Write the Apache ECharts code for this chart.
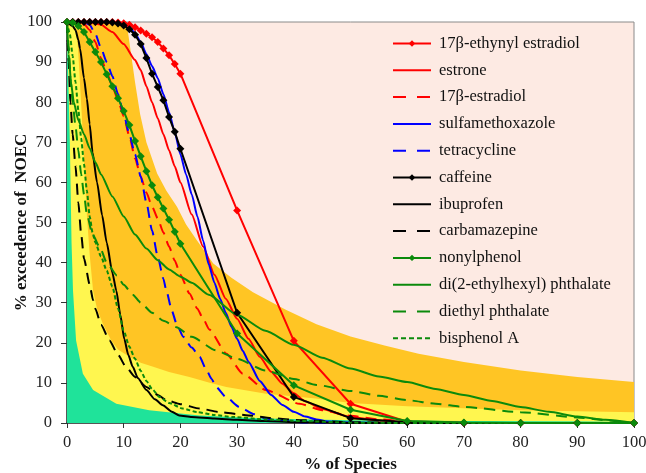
<!DOCTYPE html>
<html>
<head>
<meta charset="utf-8">
<script src="https://cdn.jsdelivr.net/npm/echarts@6/dist/echarts.min.js"></script>
<style>
  html, body { margin: 0; padding: 0; background: #fff; }
  #myChart { width: 646px; height: 473px; }
</style>
</head>
<body>
<div id="myChart"></div>
<script>
// x positions of the marker series (dense up to 20 %, then every 10 %)
const markerX = [0, 1, 2, 3, 4, 5, 6, 7, 8, 9, 10, 11, 12, 13, 14, 15, 16, 17, 18, 19, 20, 30, 40, 50, 60, 70, 80, 90, 100];
const ethynylEstradiol = [100, 100, 100, 100, 100, 100, 100, 100, 100, 99.9, 99.7, 99.3, 98.7, 97.9, 97.1, 96.2, 95, 93.4, 91.7, 89.5, 87.1, 53, 20.5, 4.8, 0.3, 0, 0, 0, 0];
const caffeine = [100, 100, 100, 100, 100, 100, 100, 100, 99.9, 99.6, 99.1, 98.2, 96.8, 94.5, 91, 87.1, 83.8, 80.5, 76.3, 72.6, 68.4, 27.5, 6.5, 1.2, 0.2, 0, 0, 0, 0];
const nonylphenol = [100, 99.8, 99, 97.5, 95, 92.5, 90, 87, 84, 81, 77.8, 74.3, 70.3, 66.5, 62.8, 59.3, 56.3, 53.5, 50.7, 47.7, 44.7, 22.3, 9.4, 3.3, 0.5, 0.1, 0, 0, 0];

// curves without markers: [% of species, % exceedence]
const estrone = [[0, 100], [4, 100], [6, 99.3], [8, 97.5], [10, 94.5], [12, 90.5], [13, 88], [14, 84], [15, 80], [16, 76], [17, 72], [18, 68], [19, 64], [20, 60], [22, 52], [24, 44], [26, 37], [28, 31], [30, 26], [32, 21], [34, 16.5], [36, 12.8], [38, 9.8], [40, 7.4], [42, 5.4], [45, 3.5], [50, 1.5], [55, 0.6], [60, 0.2], [70, 0], [100, 0]];
const estradiol = [[0, 100], [2, 100], [3, 99.5], [4, 98], [5, 95], [6, 91], [7, 87.5], [8, 84], [9, 80.5], [10, 76.5], [11, 71.5], [12, 66], [13, 61.5], [14, 57.5], [15, 54], [16, 51], [17, 47.5], [18, 44], [19, 40.5], [20, 37], [21.6, 32.3], [23, 28.5], [24, 26], [25.1, 23.3], [28.1, 17.3], [31, 12.3], [35.1, 8.2], [41, 4.8], [45, 3.2], [50, 1.8], [55, 0.9], [60, 0.4], [70, 0], [100, 0]];
const sulfamethoxazole = [[0, 100], [8, 100], [9, 99.8], [10, 99.4], [11, 98.6], [12, 97.2], [13, 95], [14, 92], [15, 89], [16, 86], [17, 82], [18, 77.5], [19, 72.5], [20, 67], [21, 62], [22, 57], [23, 51.5], [24, 45.5], [25, 39.5], [26, 35], [27, 31], [28, 27.5], [29, 24], [30, 21], [31, 18], [32, 15.3], [34, 10.5], [36, 7], [38, 4.5], [40, 2.8], [42, 1.6], [44, 0.9], [46, 0.4], [50, 0.1], [55, 0], [100, 0]];
const tetracycline = [[0, 100], [3, 100], [4, 99.3], [5, 97], [6, 93.5], [7, 90], [8, 86.5], [9, 82], [10, 77], [11, 72], [12, 67], [13, 61.5], [14, 55], [15, 48], [16, 41.5], [17, 36], [17.5, 33.1], [18.5, 28], [19.3, 24.8], [20.5, 21.5], [22, 18.8], [23.4, 16.5], [24.5, 13.5], [25.5, 11], [26.3, 9], [28, 6.5], [30.4, 4], [33, 2.2], [35.1, 1.1], [38, 0.5], [42, 0.1], [50, 0], [100, 0]];
const ibuprofen = [[0, 100], [1, 99], [1.5, 98], [2, 95.5], [2.3, 93.4], [3, 86], [3.5, 80.9], [4, 74.5], [4.5, 67.5], [5.3, 60], [6.2, 51.8], [7, 45], [8, 37.5], [8.7, 33], [9.4, 27], [10.1, 21], [10.8, 17], [11.6, 14], [12.5, 11.2], [14, 8.2], [15.5, 5.9], [16.9, 4.4], [18.5, 2.8], [19.8, 1.9], [22, 1.5], [26, 1.1], [30, 0.8], [35, 0.5], [40, 0.2], [50, 0], [100, 0]];
const carbamazepine = [[0, 100], [0.1, 95], [0.3, 90], [0.6, 80], [1, 72], [1.5, 64], [2, 55], [2.5, 47], [3, 41], [4, 34.5], [4.6, 30.6], [5, 28.5], [6, 24.5], [7.5, 20.6], [9, 17], [10.4, 14], [12, 11.5], [14, 9], [16, 7], [17.5, 5.7], [20, 4.7], [23.4, 3.6], [27, 2.7], [32, 1.9], [36, 1.2], [41, 0.7], [50, 0.2], [60, 0], [100, 0]];
const dehp = [[0, 100], [0.3, 92], [0.7, 85], [1.2, 80], [2, 75.5], [3, 72], [4, 68.5], [5, 65], [6, 62], [8, 56.5], [10, 51.5], [12, 47], [14, 43.5], [16, 40.6], [18, 38.3], [20, 36.5], [22, 35], [25, 32], [30, 27], [35, 23], [40, 19.5], [45, 16.3], [50, 13.6], [55, 11.6], [60, 10.2], [65, 8.5], [70, 7], [75, 5.5], [80, 4], [85, 2.8], [90, 1.6], [95, 0.8], [100, 0]];
const dep = [[0, 100], [0.3, 94], [0.6, 86], [1, 80], [1.5, 74], [2, 68], [2.5, 62], [3, 57], [3.5, 52], [4.5, 47], [5.9, 43.5], [7, 40], [8.8, 36.8], [10, 34.5], [11.6, 32], [13, 30], [15, 27.5], [17, 25.5], [19.3, 23.9], [22, 21.5], [26.3, 18.1], [30, 16], [35, 13.1], [40, 11], [44, 9.5], [50, 8], [55, 6.8], [60, 5.7], [65, 4.8], [70, 4], [80, 2.7], [90, 1.4], [95, 0.7], [100, 0]];
const bisphenolA = [[0, 100], [0.5, 97], [1, 91.5], [1.5, 85], [2, 78], [2.5, 71], [3, 64.5], [3.5, 58], [4, 51.5], [4.5, 47.5], [5, 45], [6, 41.5], [7, 38], [8, 34], [9, 28.5], [10, 23], [11, 19], [12, 16], [13, 13], [14, 10.5], [15, 8.5], [16.3, 6.5], [18, 5], [20.4, 3.6], [23, 2.7], [26, 2], [29.2, 1.5], [35, 0.9], [41, 0.5], [50, 0.1], [60, 0], [100, 0]];

// upper edges of the coloured background bands
const orangeBand = [[0, 100], [10.5, 100], [11.2, 93], [12, 85], [12.9, 77], [14, 70], [15.9, 62.2], [17.5, 58], [19.4, 53.9], [21, 49.5], [22.9, 45.6], [25.8, 39.8], [29, 36.2], [32.8, 32.6], [38.5, 28.3], [44, 24.6], [50, 21.6], [56, 19.3], [62, 17.3], [70, 15.2], [80, 13.1], [90, 11.5], [100, 10.2]];
const yellowBand = [[0, 100], [1.6, 100], [2, 92], [2.6, 77], [3.1, 63], [3.5, 52], [4, 42], [4.6, 33], [5.3, 28.5], [6.3, 24.8], [7.8, 20.6], [9, 18.3], [11, 16.5], [13, 15], [15.2, 14], [18, 12.7], [21.6, 11.5], [25, 10.1], [28.1, 9], [35.1, 7.3], [43.9, 6.1], [50, 5], [60, 4.2], [70, 3.7], [80, 3.2], [90, 2.9], [100, 2.7]];
const greenBand = [[0, 100], [0.3, 100], [0.5, 70], [0.8, 45], [1.06, 33], [1.6, 20.6], [2.8, 12.3], [4.6, 8.2], [8.7, 4.8], [14.5, 3.2], [23.4, 1.9], [34.8, 1.1], [50, 0.7], [70, 0.5], [100, 0.4]];

const names = ['17β-ethynyl estradiol', 'estrone', '17β-estradiol', 'sulfamethoxazole', 'tetracycline', 'caffeine', 'ibuprofen', 'carbamazepine', 'nonylphenol', 'di(2-ethylhexyl) phthalate', 'diethyl phthalate', 'bisphenol A'];
const withMarkers = ['17β-ethynyl estradiol', 'caffeine', 'nonylphenol'];

const serif = '"Liberation Serif", "Times New Roman", serif';
const RED = '#ff0000', BLUE = '#0000ff', BLACK = '#000000', GREEN = '#0b8a0b';
const LONG_DASH = [11, 7];

function pairs(xs, ys) {
  return xs.map((x, i) => [x, ys[i]]);
}

function band(data, color) {
  return {
    type: 'line', data: data, symbol: 'none', silent: true,
    lineStyle: { width: 0 },
    areaStyle: { color: color, opacity: 1 },
    z: 1
  };
}

function curve(name, data, color, dash, marker) {
  return {
    name: name, type: 'line', data: data,
    color: color,
    symbol: marker ? 'diamond' : 'none',
    symbolSize: 8,
    // the plain curves are densely sampled, a light smoothing hides the joints
    smooth: marker ? false : 0.2,
    smoothMonotone: 'x',
    lineStyle: { width: 2, color: color, type: dash || 'solid' },
    itemStyle: { color: color },
    z: 3
  };
}

// legend entries: hide the symbol for plain lines, show dashes like the original key
const legendDash = { '17β-estradiol': [13, 11], 'tetracycline': [13, 11], 'carbamazepine': [13, 11], 'diethyl phthalate': [13, 11], 'bisphenol A': [5, 3] };
const legendData = names.map(n => {
  const item = { name: n };
  if (withMarkers.indexOf(n) < 0) item.itemStyle = { opacity: 0 };
  if (legendDash[n]) item.lineStyle = { type: legendDash[n] };
  return item;
});

let myChart = echarts.init(document.getElementById('myChart'));

let option = {
  animation: false,
  grid: {
    left: 67, right: 12, top: 22, bottom: 50,
    outerBoundsMode: 'none',
    show: true, backgroundColor: '#fdeae3',
    borderColor: '#8a8a8a', borderWidth: 1
  },
  legend: {
    data: legendData,
    orient: 'vertical',
    left: 387, top: 30,
    itemWidth: 38, itemHeight: 8, itemGap: 9.8,
    textStyle: { fontFamily: serif, fontSize: 16.5, color: '#111', lineHeight: 17, padding: [0, 0, 0, 3] }
  },
  xAxis: {
    type: 'value', min: 0, max: 100, interval: 10,
    name: '% of Species', nameLocation: 'middle', nameGap: 33, nameMoveOverlap: false,
    nameTextStyle: { fontFamily: serif, fontSize: 17, fontWeight: 'bold', color: '#111' },
    axisLine: { show: true, onZero: false, lineStyle: { color: '#333', width: 1.5 } },
    axisTick: { show: true, length: 5, lineStyle: { color: '#333' } },
    axisLabel: { fontFamily: serif, fontSize: 16.5, color: '#222', margin: 11 },
    splitLine: { show: false }
  },
  yAxis: {
    type: 'value', min: 0, max: 100, interval: 10,
    name: '% exceedence of  NOEC', nameLocation: 'middle', nameGap: 37, nameMoveOverlap: false,
    nameTextStyle: { fontFamily: serif, fontSize: 17, fontWeight: 'bold', color: '#111' },
    axisLine: { show: true, onZero: false, lineStyle: { color: '#333', width: 1.5 } },
    axisTick: { show: true, length: 6, lineStyle: { color: '#333' } },
    axisLabel: { fontFamily: serif, fontSize: 16.5, color: '#222', margin: 15 },
    splitLine: { show: false }
  },
  series: [
    band(orangeBand, '#ffc524'),
    band(yellowBand, '#fff64f'),
    band(greenBand, '#1fe39a'),
    curve(names[0], pairs(markerX, ethynylEstradiol), RED, null, true),
    curve(names[1], estrone, RED),
    curve(names[2], estradiol, RED, LONG_DASH),
    curve(names[3], sulfamethoxazole, BLUE),
    curve(names[4], tetracycline, BLUE, LONG_DASH),
    curve(names[5], pairs(markerX, caffeine), BLACK, null, true),
    curve(names[6], ibuprofen, BLACK),
    curve(names[7], carbamazepine, BLACK, LONG_DASH),
    curve(names[8], pairs(markerX, nonylphenol), GREEN, null, true),
    curve(names[9], dehp, GREEN),
    curve(names[10], dep, GREEN, LONG_DASH),
    curve(names[11], bisphenolA, GREEN, [4, 2.5])
  ]
};

myChart.setOption(option);
</script>
</body>
</html>
